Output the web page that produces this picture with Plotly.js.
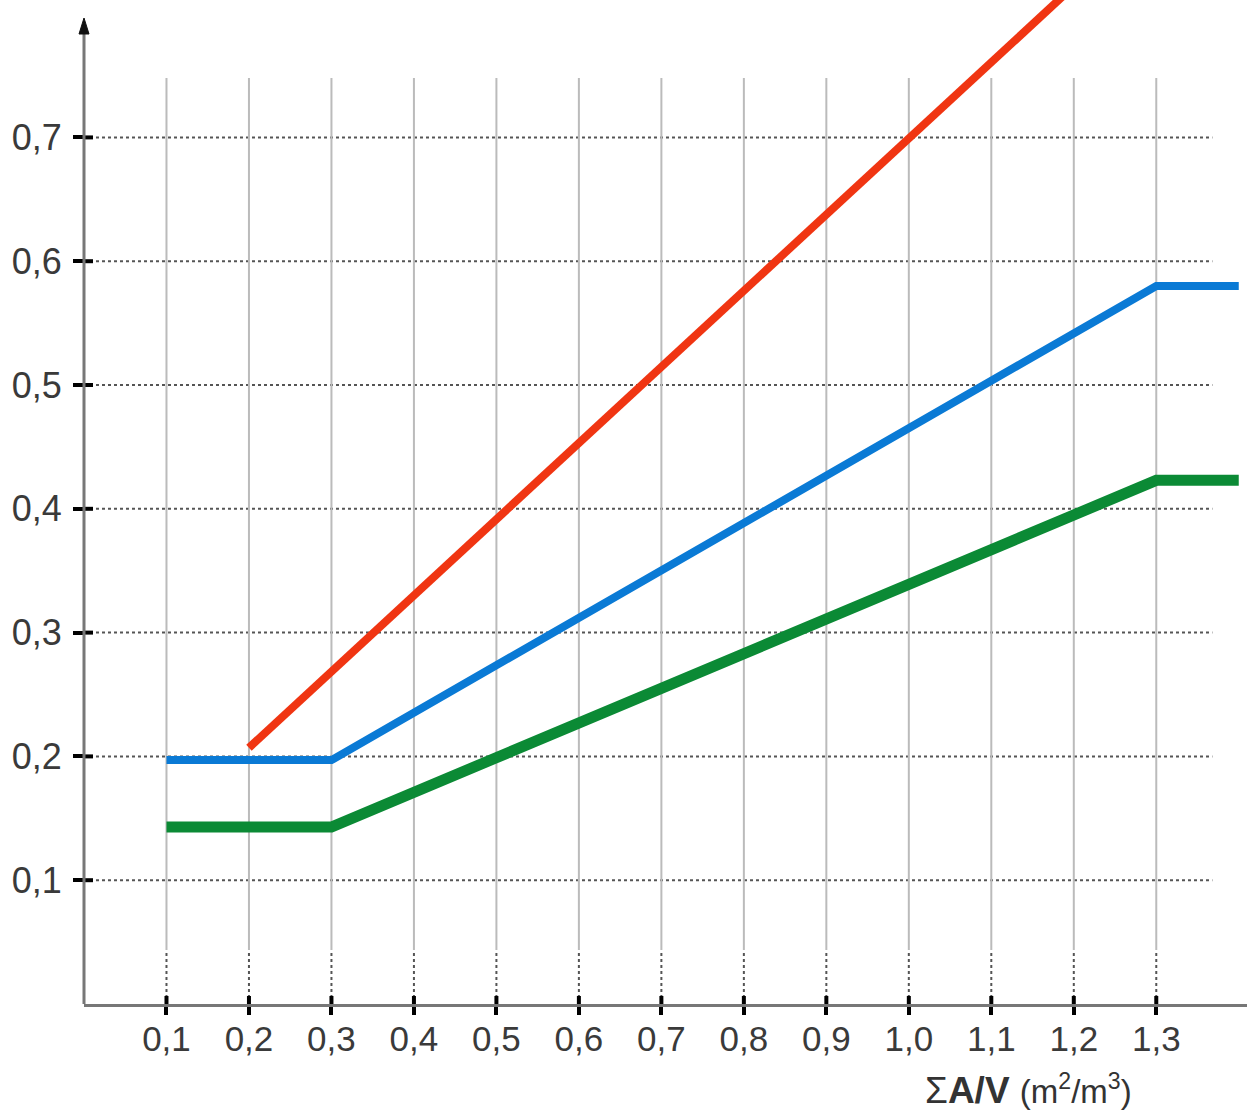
<!DOCTYPE html>
<html>
<head>
<meta charset="utf-8">
<script src="https://cdn.plot.ly/plotly-3.0.1.min.js"></script>
<style>html,body{margin:0;padding:0;background:#fff;}#chart{width:1247px;height:1113px;}</style>
</head>
<body>
<div id="chart"></div>
<script>
// ---- data ----
const xTicks = [0.1, 0.2, 0.3, 0.4, 0.5, 0.6, 0.7, 0.8, 0.9, 1.0, 1.1, 1.2, 1.3];
const xTickLabels = ["0,1","0,2","0,3","0,4","0,5","0,6","0,7","0,8","0,9","1,0","1,1","1,2","1,3"];
const yTicks = [0.1, 0.2, 0.3, 0.4, 0.5, 0.6, 0.7];
const yTickLabels = ["0,1","0,2","0,3","0,4","0,5","0,6","0,7"];

const redX = [0.2, 1.25];
const redY = [0.207, 0.853];
const blueX = [0.1, 0.3, 1.3, 1.4];
const blueY = [0.197, 0.197, 0.580, 0.580];
const greenX = [0.1, 0.3, 1.3, 1.4];
const greenY = [0.143, 0.143, 0.423, 0.423];

const xTitle = "Σ<b>A/V</b> <span style='font-size:33px'>(m<sup>2</sup>/m<sup>3</sup>)</span>";

// ---- layout helpers ----
const X_MAX = 1.41, Y_MAX = 0.811;
const GRID_TOP = 0.748, GRID_DOT_TOP = 0.0436, HGRID_END = 1.368;
const PLOT_W = 1163, PLOT_H = 1004;

const traces = [
  {x: greenX, y: greenY, mode: 'lines', line: {color: '#0b8a35', width: 11}, hoverinfo: 'skip'},
  {x: blueX, y: blueY, mode: 'lines', line: {color: '#0a7ad5', width: 8}, hoverinfo: 'skip'},
  {x: redX, y: redY, mode: 'lines', line: {color: '#f03512', width: 8}, hoverinfo: 'skip'}
];

const shapes = [];
yTicks.forEach(v => {
  shapes.push({type:'line', layer:'below', xref:'x', yref:'y', x0:0, x1:HGRID_END, y0:v, y1:v,
    line:{color:'#555', width:2, dash:'dot'}});
  shapes.push({type:'line', xref:'x', yref:'y', xsizemode:'pixel', xanchor:0, x0:0, x1:9, y0:v, y1:v,
    line:{color:'#000', width:4}});
});
xTicks.forEach(v => {
  shapes.push({type:'line', layer:'below', xref:'x', yref:'y', x0:v, x1:v, y0:GRID_DOT_TOP, y1:GRID_TOP,
    line:{color:'#bbbbbb', width:2}});
  shapes.push({type:'line', layer:'below', xref:'x', yref:'y', x0:v, x1:v, y0:0, y1:GRID_DOT_TOP,
    line:{color:'#555', width:2, dash:'dot'}});
  shapes.push({type:'line', xref:'x', yref:'y', ysizemode:'pixel', yanchor:0, y0:0, y1:8, x0:v, x1:v,
    line:{color:'#000', width:4}});
});
// y axis line with arrow head (paper coordinates)
const apex = (PLOT_H - 18) / PLOT_H, base = (PLOT_H - 34) / PLOT_H, hw = 5 / PLOT_W;
shapes.push({type:'line', xref:'paper', yref:'paper', x0:0, x1:0, y0:0, y1:base,
  line:{color:'#777', width:3}});
shapes.push({type:'path', xref:'paper', yref:'paper',
  path:`M ${-hw} ${base} L 0 ${apex} L ${hw} ${base} Z`, fillcolor:'#111', line:{color:'#111', width:1}});

const layout = {
  width: 1247, height: 1113,
  margin: {l: 84, r: 0, t: 0, b: 109},
  paper_bgcolor: '#fff', plot_bgcolor: '#fff',
  showlegend: false,
  font: {family: '"Liberation Sans", Arial, sans-serif', color: '#3a3a3a'},
  xaxis: {
    range: [0, X_MAX], showgrid: false, zeroline: false,
    showline: true, linecolor: '#777', linewidth: 3,
    tickvals: xTicks, ticktext: xTickLabels,
    ticks: 'outside', ticklen: 8, tickwidth: 4, tickcolor: '#000', ticklabelstandoff: -6,
    tickfont: {size: 35, color: '#3a3a3a'}
  },
  yaxis: {
    range: [0, Y_MAX], showgrid: false, zeroline: false, showline: false,
    tickvals: yTicks, ticktext: yTickLabels,
    ticks: 'outside', ticklen: 10, tickwidth: 4, tickcolor: '#000', ticklabelstandoff: 4,
    tickfont: {size: 36, color: '#3a3a3a'}
  },
  shapes: shapes,
  annotations: [
    {xref:'paper', yref:'paper', x:(1028-84)/PLOT_W, y:-(1089-1004)/PLOT_H, text: xTitle, showarrow:false,
      font:{size:37, color:'#333'}, xanchor:'center', yanchor:'middle'}
  ]
};

Plotly.newPlot('chart', traces, layout, {displayModeBar: false, staticPlot: true});
</script>
</body>
</html>
